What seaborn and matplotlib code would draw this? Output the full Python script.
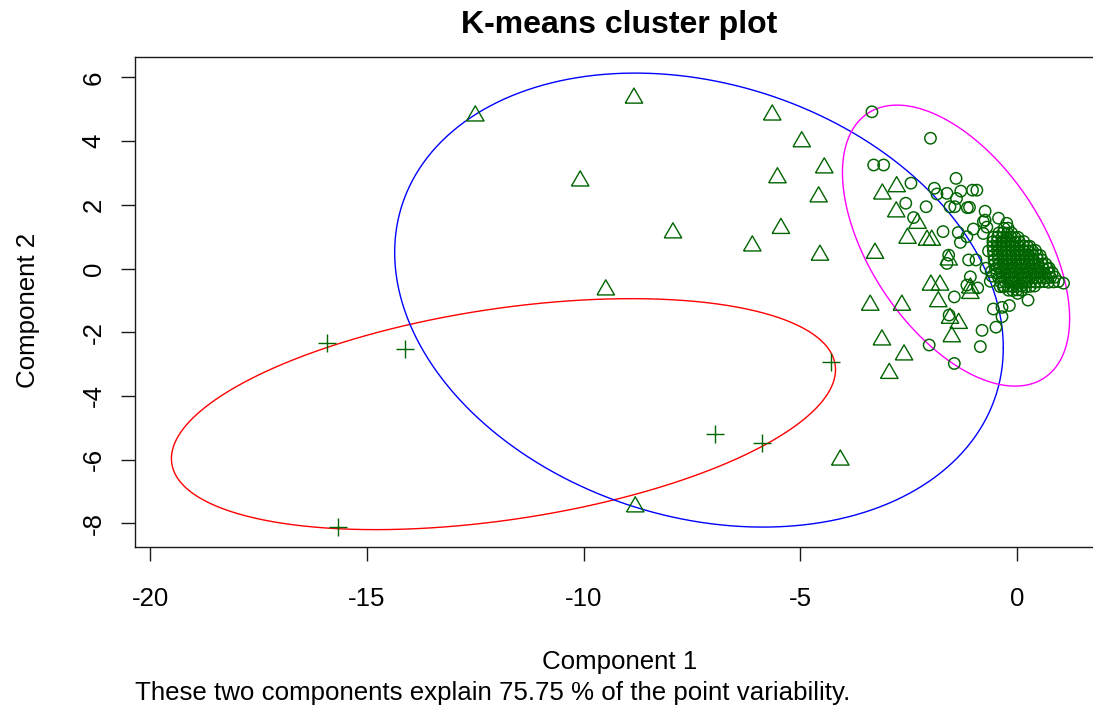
import numpy as np
import pandas as pd
import matplotlib
matplotlib.use("Agg")
import matplotlib.pyplot as plt
import seaborn as sns

# ---------------- data ----------------
# cluster 1 members (crosses)
plus_x = [-15.92, -14.12, -4.29, -6.98, -5.88, -15.66]
plus_y = [-2.35, -2.53, -2.93, -5.20, -5.47, -8.12]

# cluster 2 members (triangles)
tri_x = [-12.50, -8.84, -5.65, -4.97, -4.45, -5.53, -4.58, -10.08, -7.94, -5.45,
         -6.11, -4.55, -9.49, -4.08, -8.81,
         -2.78, -3.11, -2.79, -2.30, -2.53, -2.08, -1.97, -3.28, -1.58, -1.99,
         -1.78, -1.08, -1.08, -1.82, -3.39, -2.66, -1.55, -1.35, -1.51, -3.12,
         -2.61, -2.95]
tri_y = [4.79, 5.35, 4.82, 3.98, 3.16, 2.85, 2.25, 2.75, 1.12, 1.26,
         0.71, 0.42, -0.67, -6.01, -7.48,
         2.57, 2.34, 1.78, 1.42, 0.95, 0.89, 0.89, 0.48, 0.27, -0.52,
         -0.52, -0.61, -0.78, -1.04, -1.15, -1.15, -1.56, -1.72, -2.14, -2.24,
         -2.71, -3.29]

# cluster 3 members (circles) - scattered ones
circ_sparse_x = [-3.35, -2.00, -3.31, -3.08, -1.41, -2.45, -1.91, -1.62, -1.40, -1.30,
                 -1.03, -0.93, -2.57, -2.10, -1.55, -1.44, -1.15, -1.10, -0.74, -2.39,
                 -0.43, -0.74, -0.78, -0.24, -1.71, -1.36, -1.01, -0.78, -1.31, -1.16,
                 -1.58, -1.12, -0.95, -1.62, -0.72, -1.08, -0.58, -1.16, -0.91, -1.45,
                 -0.39, -0.32, 0.01, 0.25, -0.55, -0.35, -0.18, -1.57, -0.35, -0.81,
                 -0.49, -0.85, -2.03, -1.45, 1.07, -1.85, -0.66, -0.62, -0.70, -0.60]
circ_sparse_y = [4.92, 4.09, 3.25, 3.25, 2.83, 2.68, 2.52, 2.36, 2.20, 2.43,
                 2.46, 2.46, 2.05, 1.94, 1.94, 1.94, 1.91, 1.92, 1.80, 1.60,
                 1.58, 1.52, 1.47, 1.42, 1.16, 1.13, 1.24, 1.10, 0.82, 1.00,
                 0.42, 0.27, 0.27, 0.16, 0.01, -0.26, -0.24, -0.52, -0.61, -0.89,
                 -0.57, -0.57, -0.78, -0.99, -1.27, -1.22, -1.16, -1.46, -1.51, -1.94,
                 -1.84, -2.45, -2.40, -2.98, -0.46, 2.34, 0.55, -0.40, 1.30, -0.10]

# cluster 3 members (circles) - the dense core, row by row
circ_dense_x = [
    -0.30, -0.21,
    -0.42, -0.32, -0.22, -0.13,
    -0.55, -0.45, -0.35, -0.25, -0.15, -0.05, 0.02,
    -0.56, -0.46, -0.36, -0.26, -0.16, -0.06, 0.05, 0.15,
    -0.56, -0.46, -0.36, -0.26, -0.16, -0.06, 0.04, 0.14, 0.24, 0.29,
    -0.55, -0.45, -0.35, -0.25, -0.15, -0.05, 0.05, 0.15, 0.25, 0.35, 0.42,
    -0.54, -0.44, -0.34, -0.24, -0.14, -0.04, 0.06, 0.16, 0.26, 0.36, 0.46, 0.53,
    -0.53, -0.43, -0.33, -0.23, -0.13, -0.03, 0.07, 0.17, 0.27, 0.37, 0.47, 0.57,
    -0.52, -0.42, -0.32, -0.22, -0.12, -0.02, 0.08, 0.18, 0.28, 0.38, 0.48, 0.58, 0.66,
    -0.50, -0.40, -0.30, -0.20, -0.10, 0.00, 0.10, 0.20, 0.30, 0.40, 0.50, 0.60, 0.70, 0.74,
    -0.47, -0.37, -0.27, -0.17, -0.07, 0.03, 0.13, 0.23, 0.33, 0.43, 0.53, 0.63, 0.73, 0.81,
    -0.43, -0.33, -0.23, -0.13, -0.03, 0.07, 0.17, 0.27, 0.37, 0.47, 0.57, 0.67, 0.77, 0.87,
    -0.38, -0.28, -0.18, -0.08, 0.02, 0.12, 0.22, 0.32, 0.42, 0.52, 0.62, 0.72, 0.84, 0.95,
    -0.30, -0.20, -0.10, 0.00, 0.10, 0.20, 0.30, 0.40,
    -0.20, -0.10, 0.00, 0.10,
]
circ_dense_y = [
    1.26, 1.27,
    1.12, 1.13, 1.11, 1.12,
    0.98, 0.99, 0.97, 0.98, 0.99, 0.97, 0.98,
    0.84, 0.85, 0.83, 0.84, 0.85, 0.83, 0.84, 0.85,
    0.70, 0.71, 0.69, 0.70, 0.71, 0.69, 0.70, 0.71, 0.69, 0.70,
    0.56, 0.57, 0.55, 0.56, 0.57, 0.55, 0.56, 0.57, 0.55, 0.56, 0.57,
    0.42, 0.43, 0.41, 0.42, 0.43, 0.41, 0.42, 0.43, 0.41, 0.42, 0.43, 0.41,
    0.28, 0.29, 0.27, 0.28, 0.29, 0.27, 0.28, 0.29, 0.27, 0.28, 0.29, 0.27,
    0.14, 0.15, 0.13, 0.14, 0.15, 0.13, 0.14, 0.15, 0.13, 0.14, 0.15, 0.13, 0.14,
    0.00, 0.01, -0.01, 0.00, 0.01, -0.01, 0.00, 0.01, -0.01, 0.00, 0.01, -0.01, 0.00, 0.01,
    -0.14, -0.13, -0.15, -0.14, -0.13, -0.15, -0.14, -0.13, -0.15, -0.14, -0.13, -0.15, -0.14, -0.13,
    -0.28, -0.27, -0.29, -0.28, -0.27, -0.29, -0.28, -0.27, -0.29, -0.28, -0.27, -0.29, -0.28, -0.27,
    -0.42, -0.41, -0.43, -0.42, -0.41, -0.43, -0.42, -0.41, -0.43, -0.42, -0.41, -0.43, -0.42, -0.41,
    -0.56, -0.55, -0.57, -0.56, -0.55, -0.57, -0.56, -0.55,
    -0.68, -0.69, -0.67, -0.68,
]

# cluster ellipses: centre, half extents along x / y, correlation, colour
ell_cx = [-11.85, -7.34, -1.41]
ell_cy = [-4.57, -0.99, 0.72]
ell_sx = [7.66, 7.02, 2.62]
ell_sy = [3.625, 7.125, 4.41]
ell_rho = [0.385, -0.21, -0.52]
ell_col = ["#FF0000", "#0000FF", "#FF00FF"]

x_ticks = [-20, -15, -10, -5, 0]
y_ticks = [-8, -6, -4, -2, 0, 2, 4, 6]

title = "K-means cluster plot"
xlab = "Component 1"
ylab = "Component 2"
subtitle = "These two components explain 75.75 % of the point variability."

# ---------------- style ----------------
sns.set_style("ticks")
plt.rcParams["font.family"] = ["Liberation Sans", "DejaVu Sans"]
plt.rcParams["axes.edgecolor"] = "#1a1a1a"
plt.rcParams["axes.linewidth"] = 1.0

W, H = 1093, 708
fig = plt.figure(figsize=(W / 100, H / 100), dpi=100)
fig.patch.set_facecolor("white")
ax = fig.add_axes([135 / W, 1 - 547 / H, (1103 - 135) / W, (547 - 57) / H])
ax.set_facecolor("white")

green = "#006400"

# ellipses
t = np.linspace(0, 2 * np.pi, 600)
for cx, cy, sx, sy, rho, col in zip(ell_cx, ell_cy, ell_sx, ell_sy, ell_rho, ell_col):
    S = np.array([[sx * sx, rho * sx * sy], [rho * sx * sy, sy * sy]])
    L = np.linalg.cholesky(S)
    pts = L @ np.vstack([np.cos(t), np.sin(t)])
    ax.plot(cx + pts[0], cy + pts[1], color=col, lw=1.0, zorder=2)

# points
dcirc = pd.DataFrame({"x": circ_sparse_x + circ_dense_x, "y": circ_sparse_y + circ_dense_y})
dtri = pd.DataFrame({"x": tri_x, "y": tri_y})
dplus = pd.DataFrame({"x": plus_x, "y": plus_y})

tri_marker = [(-0.866, -0.5), (0.866, -0.5), (0.0, 1.0), (-0.866, -0.5)]

sns.scatterplot(data=dcirc, x="x", y="y", ax=ax, marker="o", s=8.2 ** 2,
                facecolors="none", edgecolor=green, linewidth=1.05, zorder=3)
sns.scatterplot(data=dtri, x="x", y="y", ax=ax, marker=tri_marker, s=14.5 ** 2,
                facecolors="none", edgecolor=green, linewidth=1.0, zorder=3)
sns.scatterplot(data=dplus, x="x", y="y", ax=ax, marker="+", s=13 ** 2,
                color=green, linewidth=1.0, zorder=3)

ax.set_xlim(-20.35, 1.98)
ax.set_ylim(-8.74, 6.64)
ax.set_xticks(x_ticks)
ax.set_xticklabels([str(v) for v in x_ticks])
ax.set_yticks(y_ticks)
ax.set_yticklabels([str(v) for v in y_ticks], rotation=90, va="center")
ax.tick_params(axis="both", direction="out", length=10, width=1.0,
               color="#1a1a1a", labelsize=18.6, labelcolor="black")
ax.tick_params(axis="x", pad=19)
ax.tick_params(axis="y", pad=11)
ax.set_xlabel("")
ax.set_ylabel("")
for sp in ax.spines.values():
    sp.set_visible(True)
    sp.set_color("#1a1a1a")

fig.text(619 / W, 1 - 25 / H, title, ha="center", va="center",
         fontsize=23, fontweight="bold", color="black")
fig.text(620 / W, 1 - 662 / H, xlab, ha="center", va="center", fontsize=18.6, color="black")
fig.text(135 / W, 1 - 693 / H, subtitle, ha="left", va="center", fontsize=18.6, color="black")
fig.text(28 / W, 1 - 310 / H, ylab, ha="center", va="center", rotation=90,
         fontsize=18.6, color="black")

fig.savefig("out.png", dpi=100, facecolor="white")
